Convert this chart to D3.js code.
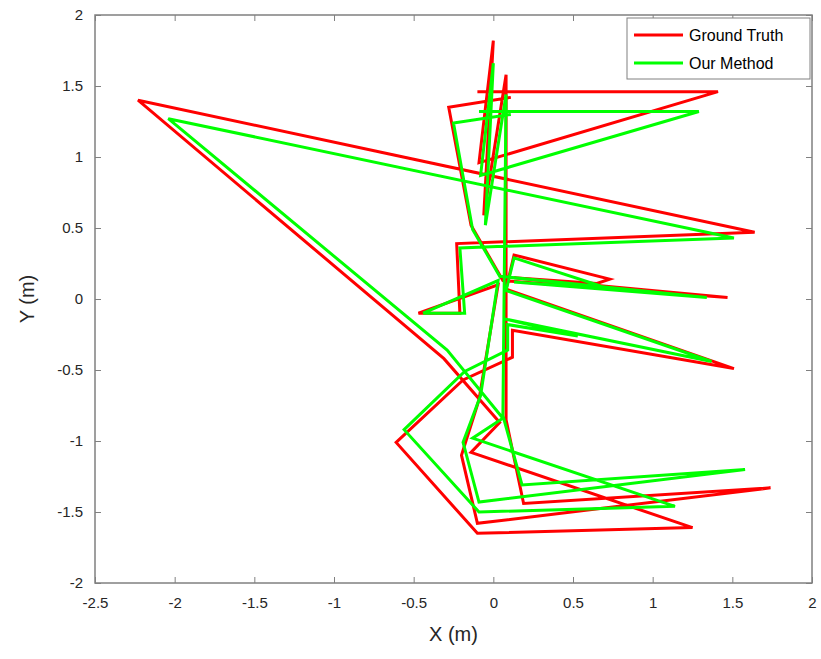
<!DOCTYPE html>
<html>
<head>
<meta charset="utf-8">
<script src="https://cdn.jsdelivr.net/npm/d3@7"></script>
<style>
  body { margin: 0; background: #fff; }
  svg text { font-family: "Liberation Sans", Arial, sans-serif; }
</style>
</head>
<body>
<svg id="chart" width="821" height="659"></svg>
<script>
// trajectory data (m)
var gtX = [-0.10, 1.41, -0.09, 0.00, -0.06, 0.08, 0.08, 0.19, 1.74, -0.10, -0.20, -0.09, 0.03, -0.47, -0.21, -0.23, 1.64, -2.23, -0.31, 0.04, -0.14, 1.25, -0.10, -0.61, -0.19, 0.12, 0.12, 1.51, 0.08, 0.13, 0.73, 0.65, 0.13, 1.47, 0.06, -0.14, -0.28, 0.11];
var gtY = [1.46, 1.46, 0.96, 1.82, 0.59, 1.58, -0.85, -1.44, -1.33, -1.58, -1.10, -0.71, 0.10, -0.10, -0.10, 0.39, 0.47, 1.40, -0.42, -0.87, -1.08, -1.61, -1.65, -1.01, -0.57, -0.41, -0.22, -0.49, 0.07, 0.31, 0.14, 0.11, 0.15, 0.01, 0.13, 0.52, 1.35, 1.42];
var ourX = [-0.09, 1.29, -0.08, 0.00, -0.05, 0.08, 0.06, 0.18, 1.58, -0.09, -0.19, -0.08, 0.03, -0.44, -0.18, -0.21, 1.51, -2.04, -0.29, 0.06, -0.13, 1.14, -0.09, -0.56, -0.18, 0.09, 0.09, 0.53, 0.07, 1.37, 0.08, 0.13, 0.65, 0.61, 0.13, 1.34, 0.04, -0.13, -0.25, 0.11];
var ourY = [1.32, 1.32, 0.87, 1.66, 0.52, 1.44, -0.82, -1.31, -1.20, -1.43, -1.01, -0.68, 0.13, -0.10, -0.10, 0.36, 0.43, 1.27, -0.36, -0.84, -0.98, -1.46, -1.50, -0.92, -0.51, -0.36, -0.18, -0.26, -0.14, -0.44, 0.06, 0.29, 0.10, 0.08, 0.12, 0.01, 0.16, 0.49, 1.24, 1.30];

var xTicks = [-2.5, -2, -1.5, -1, -0.5, 0, 0.5, 1, 1.5, 2];
var yTicks = [-2, -1.5, -1, -0.5, 0, 0.5, 1, 1.5, 2];

var series = [
  {name: "Ground Truth", color: "#ff0000", xs: gtX, ys: gtY},
  {name: "Our Method", color: "#00ff00", xs: ourX, ys: ourY}
];

var svg = d3.select("#chart");
var pLeft = 95, pRight = 812, pTop = 15, pBottom = 583;

var x = d3.scaleLinear().domain([-2.5, 2]).range([pLeft, pRight]);
var y = d3.scaleLinear().domain([-2, 2]).range([pBottom, pTop]);

var fmt = function(d) { return String(d); };

// axes, MATLAB style box with inward ticks
var axisCol = "#808080";
function styleAxis(g, hideText) {
  g.select(".domain").remove();
  g.selectAll(".tick line").attr("stroke", axisCol);
  g.selectAll(".tick text").attr("fill", "#262626").style("font-size", "15px");
  if (hideText) g.selectAll(".tick text").remove();
}

svg.append("g").attr("transform", "translate(0," + pBottom + ")")
  .call(d3.axisBottom(x).tickValues(xTicks).tickFormat(fmt).tickSizeInner(-6).tickSizeOuter(0).tickPadding(14))
  .call(styleAxis, false);
svg.append("g").attr("transform", "translate(0," + pTop + ")")
  .call(d3.axisTop(x).tickValues(xTicks).tickSizeInner(-6).tickSizeOuter(0))
  .call(styleAxis, true);
svg.append("g").attr("transform", "translate(" + pLeft + ",0)")
  .call(d3.axisLeft(y).tickValues(yTicks).tickFormat(fmt).tickSizeInner(-6).tickSizeOuter(0).tickPadding(12))
  .call(styleAxis, false);
svg.append("g").attr("transform", "translate(" + pRight + ",0)")
  .call(d3.axisRight(y).tickValues(yTicks).tickSizeInner(-6).tickSizeOuter(0))
  .call(styleAxis, true);

svg.append("rect")
  .attr("x", pLeft).attr("y", pTop)
  .attr("width", pRight - pLeft).attr("height", pBottom - pTop)
  .attr("fill", "none").attr("stroke", axisCol).attr("stroke-width", 1.5);

// trajectories
var line = d3.line().x(function(d) { return x(d[0]); }).y(function(d) { return y(d[1]); });
series.forEach(function(s) {
  var pts = s.xs.map(function(v, i) { return [v, s.ys[i]]; });
  svg.append("path")
    .attr("d", line(pts))
    .attr("fill", "none")
    .attr("stroke", s.color)
    .attr("stroke-width", 3)
    .attr("stroke-linejoin", "miter");
});

// axis labels
svg.append("text").attr("x", (pLeft + pRight) / 2).attr("y", 641)
  .attr("text-anchor", "middle").style("font-size", "20px").attr("fill", "#262626").text("X (m)");
svg.append("text").attr("transform", "translate(34," + ((pTop + pBottom) / 2) + ") rotate(-90)")
  .attr("text-anchor", "middle").style("font-size", "20px").attr("fill", "#262626").text("Y (m)");

// legend
var lg = svg.append("g");
lg.append("rect").attr("x", 627).attr("y", 18).attr("width", 183).attr("height", 61)
  .attr("fill", "#fff").attr("stroke", "#808080").attr("stroke-width", 1);
series.forEach(function(s, i) {
  var ly = 35 + i * 28;
  lg.append("line").attr("x1", 634).attr("x2", 683).attr("y1", ly).attr("y2", ly)
    .attr("stroke", s.color).attr("stroke-width", 3);
  lg.append("text").attr("x", 689).attr("y", ly + 6).style("font-size", "16px")
    .attr("fill", "#000").text(s.name);
});
</script>
</body>
</html>
